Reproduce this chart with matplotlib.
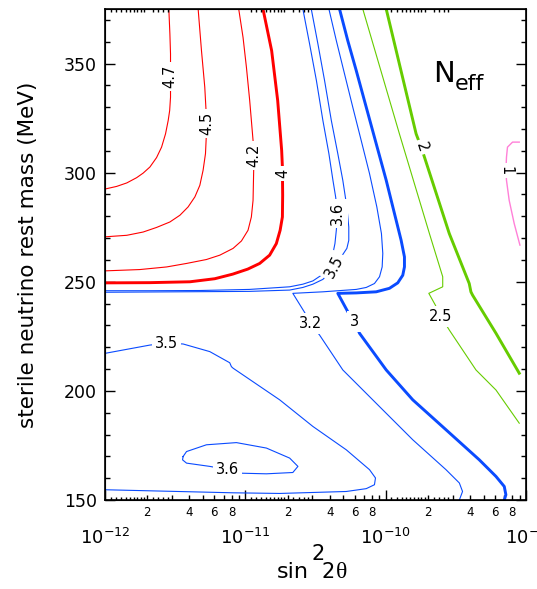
import numpy as np
import matplotlib
matplotlib.use('Agg')
import matplotlib.pyplot as plt

plt.rcParams['font.family'] = ['DejaVu Sans']
plt.rcParams['mathtext.fontset'] = 'dejavusans'

# contour lines: x = sin^2(2 theta), y = mass (MeV)
n47_x = [1.00e-12, 1.21e-12, 1.43e-12, 1.68e-12, 1.87e-12, 2.09e-12, 2.33e-12, 2.53e-12, 2.70e-12,
         2.82e-12, 2.89e-12, 2.93e-12, 2.93e-12, 2.90e-12, 2.85e-12]
n47_y = [292.5, 293.7, 295.3, 297.7, 299.8, 302.6, 306.9, 311.7, 317.8,
         323.9, 328.5, 334.6, 354.4, 363.6, 375.0]

n45_x = [1.00e-12, 1.43e-12, 1.87e-12, 2.33e-12, 2.90e-12, 3.42e-12, 3.91e-12, 4.37e-12, 4.74e-12,
         5.00e-12, 5.20e-12, 5.28e-12, 5.28e-12, 5.14e-12, 4.87e-12, 4.61e-12]
n45_y = [270.6, 271.3, 272.8, 274.9, 277.4, 280.5, 284.3, 288.9, 294.2,
         301.1, 308.7, 317.8, 325.4, 339.2, 355.9, 375.0]

n42_x = [1.00e-12, 1.77e-12, 2.75e-12, 3.81e-12, 5.28e-12, 6.58e-12, 8.18e-12, 9.38e-12, 1.045e-11,
         1.104e-11, 1.135e-11, 1.148e-11, 1.135e-11, 1.074e-11, 1.018e-11, 9.63e-12, 8.97e-12]
n42_y = [255.0, 255.6, 256.8, 258.4, 260.2, 262.2, 265.3, 268.7, 273.6,
         279.7, 287.3, 302.6, 314.8, 333.1, 348.3, 362.0, 375.0]

n40_x = [1.00e-12, 2.09e-12, 4.03e-12, 6.06e-12, 8.13e-12, 1.04e-11, 1.265e-11, 1.49e-11, 1.663e-11,
         1.77e-11, 1.837e-11, 1.845e-11, 1.837e-11, 1.815e-11, 1.70e-11, 1.54e-11, 1.336e-11]
n40_y = [249.5, 249.6, 250.0, 251.4, 253.5, 255.8, 258.4, 262.2, 267.5,
         273.6, 279.7, 289.6, 302.6, 310.2, 333.1, 355.9, 375.0]

n36a_x = [2.57e-11, 2.87e-11, 3.21e-11, 3.57e-11, 3.94e-11, 4.21e-11, 4.40e-11, 4.54e-11, 4.45e-11,
          4.35e-11, 4.16e-11, 3.87e-11, 3.48e-11, 3.03e-11, 2.57e-11, 2.07e-11, 1.49e-11, 1.07e-11,
          4.74e-12, 2.09e-12, 1.00e-12]
n36a_y = [375.0, 359.0, 342.2, 323.9, 308.7, 296.5, 288.9, 281.4, 273.6,
          267.5, 261.4, 256.8, 253.0, 250.4, 248.9, 247.7, 247.1, 246.5,
          246.0, 245.9, 245.9]

n35a_x = [2.95e-11, 3.29e-11, 3.67e-11, 4.10e-11, 4.56e-11, 4.95e-11, 5.29e-11, 5.46e-11, 5.46e-11,
          5.29e-11, 4.32e-11, 3.57e-11, 3.03e-11, 2.57e-11, 2.07e-11, 1.07e-11, 1.00e-12]
n35a_y = [375.0, 359.0, 342.2, 323.9, 308.7, 296.5, 284.3, 275.1, 269.0,
          265.3, 256.8, 251.1, 248.9, 247.4, 246.2, 245.6, 245.2]

n32_x = [3.94e-11, 4.45e-11, 5.09e-11, 5.83e-11, 6.69e-11, 7.67e-11, 8.65e-11, 9.33e-11, 9.54e-11,
         9.44e-11, 9.04e-11, 8.32e-11, 7.27e-11, 6.17e-11, 3.57e-11, 2.18e-11,
         2.72e-11, 2.90e-11, 3.38e-11, 4.95e-11, 9.04e-11, 1.56e-10, 2.69e-10, 3.35e-10, 3.53e-10, 3.35e-10]
n32_y = [375.0, 360.5, 345.3, 330.0, 314.8, 299.6, 284.3, 272.1, 263.0,
         256.8, 252.3, 249.2, 247.4, 246.5, 245.4, 244.7,
         234.7, 231.0, 225.6, 209.6, 192.8, 177.6, 163.9, 157.8, 153.9, 150.0]

n30_x = [4.69e-11, 5.37e-11, 6.17e-11, 7.27e-11, 8.56e-11, 1.009e-10, 1.155e-10, 1.289e-10, 1.361e-10,
         1.361e-10, 1.324e-10, 1.219e-10, 1.064e-10, 8.56e-11, 6.17e-11, 4.56e-11,
         5.37e-11, 6.00e-11, 6.51e-11, 1.009e-10, 1.56e-10, 2.69e-10, 4.65e-10, 6.11e-10, 7.00e-10,
         7.19e-10, 7.00e-10]
n30_y = [375.0, 360.5, 346.8, 330.0, 313.3, 296.5, 281.3, 269.0, 261.4,
         256.8, 253.0, 249.5, 247.0, 245.4, 244.9, 244.7,
         236.3, 231.7, 226.4, 209.6, 195.9, 182.2, 168.4, 160.8, 156.2,
         152.4, 150.0]

n25_x = [6.87e-11, 1.253e-10, 2.05e-10, 2.55e-10, 2.55e-10, 2.03e-10, 2.26e-10, 2.48e-10, 2.84e-10,
         4.40e-10, 6.11e-10, 8.95e-10]
n25_y = [375.0, 317.8, 272.1, 252.3, 247.7, 244.7, 239.3, 234.0, 227.9, 209.6, 200.4, 185.2]

n20_x = [1.009e-10, 1.648e-10, 1.79e-10, 1.89e-10, 2.84e-10, 3.94e-10, 4.05e-10, 4.16e-10, 6.11e-10, 8.95e-10]
n20_y = [375.0, 317.8, 311.7, 307.1, 272.1, 249.2, 245.4, 243.9, 226.4, 208.1]

n10_x = [8.95e-10, 8.02e-10, 7.38e-10, 7.26e-10, 7.19e-10, 7.26e-10, 7.59e-10, 8.24e-10, 9.05e-10]
n10_y = [314.0, 314.0, 311.7, 307.1, 301.1, 296.5, 287.3, 276.7, 266.8]

n35b_x = [1.00e-12, 2.09e-12, 2.75e-12, 3.60e-12, 5.58e-12, 7.74e-12, 7.96e-12, 8.18e-12, 1.757e-11,
          3.03e-11, 5.24e-11, 7.67e-11, 8.46e-11, 8.32e-11, 7.27e-11, 5.24e-11, 1.757e-11, 8.18e-12, 1.00e-12]
n35b_y = [217.2, 221.0, 221.8, 221.5, 218.0, 212.9, 211.1, 210.4, 195.9,
          183.7, 173.0, 163.9, 160.1, 157.0, 155.2, 153.9, 153.0, 153.3, 154.7]

n36b_x = [3.60e-12, 3.81e-12, 5.28e-12, 8.64e-12, 1.413e-11, 2.07e-11, 2.37e-11, 2.18e-11, 1.413e-11,
          9.12e-12, 7.50e-12, 5.58e-12, 3.81e-12, 3.57e-12, 3.60e-12]
n36b_y = [169.9, 172.2, 175.3, 176.3, 173.8, 169.2, 165.4, 162.6, 162.0,
          162.3, 163.9, 165.4, 166.9, 168.4, 169.9]

# contour labels: text, x, y, rotation
label_txt = ['4.7', '4.5', '4.2', '4', '3.6', '3.5', '3.2', '3', '2.5', '2', '1', '3.5', '3.6']
label_x = [2.92e-12, 5.28e-12, 1.148e-11, 1.845e-11, 4.54e-11, 4.32e-11, 2.90e-11, 6.00e-11,
           2.48e-10, 1.79e-10, 7.19e-10, 2.75e-12, 7.50e-12]
label_y = [344.1, 322.6, 307.9, 299.7, 281.4, 256.8, 231.0, 231.7, 234.0, 311.7, 301.1, 221.8, 163.9]
label_rot = [90, 90, 90, 90, 90, 62, 0, 0, 0, -72, -90, 0, 0]

red = '#ff0000'
blue = '#0a4bff'
green = '#66cc00'
pink = '#ff80d8'
thin = 0.8
thick = 2.1

fig = plt.figure(figsize=(5.37, 5.89), dpi=100)
ax = fig.add_axes([105/537, 1-500/589, 421/537, 491/589])

lines = [(n47_x, n47_y, red, thin), (n45_x, n45_y, red, thin), (n42_x, n42_y, red, thin),
         (n40_x, n40_y, red, thick), (n36a_x, n36a_y, blue, thin), (n35a_x, n35a_y, blue, thin),
         (n32_x, n32_y, blue, thin), (n30_x, n30_y, blue, thick), (n25_x, n25_y, green, thin),
         (n20_x, n20_y, green, thick), (n10_x, n10_y, pink, 1.0), (n35b_x, n35b_y, blue, thin),
         (n36b_x, n36b_y, blue, thin)]
for xs, ys, c, lw in lines:
    ax.plot(xs, ys, color=c, lw=lw, zorder=2)

for s, x, y, r in zip(label_txt, label_x, label_y, label_rot):
    ax.text(x, y, s, rotation=r, ha='center', va='center', fontsize=10.5,
            rotation_mode='anchor', zorder=3,
            bbox=dict(boxstyle='square,pad=0.2', fc='white', ec='none'))

ax.set_xscale('log')
ax.set_xlim(1e-12, 1e-9)
ax.set_ylim(150, 375)

decades = [1e-12, 1e-11, 1e-10, 1e-9]
ax.set_xticks(decades)
ax.set_xticklabels([r'$\mathregular{10^{-12}}$', r'$\mathregular{10^{-11}}$',
                    r'$\mathregular{10^{-10}}$', r'$\mathregular{10^{-9}}$'])
mid = [k * d for d in decades[:-1] for k in range(2, 10)]
ax.set_xticks(mid, minor=True)
ax.set_xticklabels([str(k) if k % 2 == 0 else '' for d in decades[:-1] for k in range(2, 10)],
                   minor=True)
ax.set_yticks([150, 200, 250, 300, 350])
ax.set_yticks(np.arange(160, 376, 10), minor=True)

ax.tick_params(which='both', direction='in', top=True, right=True, width=1.0, colors='black')
ax.tick_params(which='major', length=7.5)
ax.tick_params(which='minor', length=3.8)
ax.tick_params(axis='x', which='major', labelsize=13, pad=20)
ax.tick_params(axis='x', which='minor', labelsize=8.5, pad=4)
ax.tick_params(axis='y', which='major', labelsize=12.5, pad=6)
for sp in ax.spines.values():
    sp.set_linewidth(1.2)

# the smallest ticks (1.1 ... 1.9, 2.2 ... 2.8) on a twin axis
ax2 = ax.twiny()
ax2.set_xscale('log')
ax2.set_xlim(ax.get_xlim())
small = [v / 10 * d for d in decades[:-1] for v in list(range(11, 20)) + [22, 24, 26, 28]]
ax2.set_xticks(small)
ax2.xaxis.set_minor_locator(plt.NullLocator())
ax2.tick_params(axis='x', direction='in', top=True, bottom=True, labeltop=False,
                labelbottom=False, length=2.2, width=1.0)

ax.set_ylabel('sterile neutrino rest mass (MeV)', fontsize=15.5)
ax.yaxis.set_label_coords(-0.16, 0.5)

ax.text(0.779, 0.852, 'N', transform=ax.transAxes, fontsize=21, ha='left', va='baseline')
ax.text(0.831, 0.835, 'eff', transform=ax.transAxes, fontsize=16, ha='left', va='baseline')

fig.text(276.7/537, 1-578.3/589, 'sin', fontsize=16, ha='left', va='baseline')
fig.text(311.7/537, 1-560/589, '2', fontsize=15, ha='left', va='baseline')
fig.text(321.7/537, 1-578.3/589, '2', fontsize=15, ha='left', va='baseline')
fig.text(336/537, 1-578.3/589, 'θ', fontsize=17, ha='left', va='baseline',
         family=['Liberation Serif', 'DejaVu Serif'])

fig.savefig('out.png', dpi=100)
